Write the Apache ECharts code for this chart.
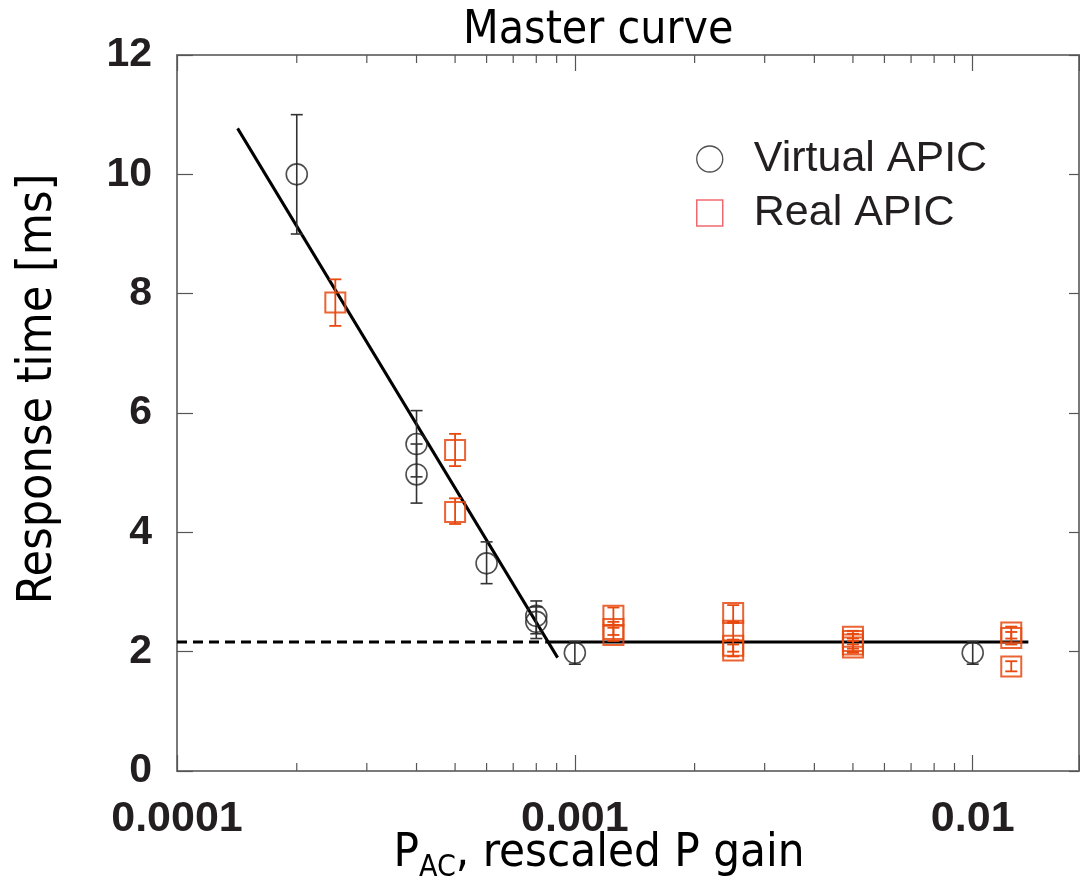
<!DOCTYPE html>
<html>
<head>
<meta charset="utf-8">
<script src="https://cdn.jsdelivr.net/npm/echarts@6/dist/echarts.min.js"></script>
<style>
html, body { margin: 0; padding: 0; background: #fff; }
#chart { width: 1080px; height: 891px; }
</style>
</head>
<body>
<div id="chart"></div>
<script>
// Virtual APIC (black circles)
var virtualX    = [2e-4, 4e-4, 4e-4, 6e-4, 8e-4, 8e-4, 1e-3, 1e-2];
var virtualY    = [10.0, 5.48, 4.97, 3.48, 2.60, 2.50, 1.98, 1.98];
var virtualLow  = [9.0,  4.93, 4.49, 3.14, 2.30, 2.22, 1.79, 1.79];
var virtualHigh = [11.0, 6.04, 5.48, 3.84, 2.85, 2.75, 2.17, 2.17];

// Real APIC (orange squares)
var realX    = [2.5e-4, 5e-4, 5e-4, 1.25e-3, 1.25e-3, 1.25e-3, 2.5e-3, 2.5e-3, 2.5e-3, 2.5e-3,
                5e-3, 5e-3, 5e-3, 5e-3, 1.25e-2, 1.25e-2, 1.25e-2];
var realY    = [7.85, 5.38, 4.34, 2.60, 2.38, 2.28, 2.65, 2.35, 2.10, 2.02,
                2.25, 2.18, 2.12, 2.07, 2.32, 2.23, 1.75];
var realLow  = [7.46, 5.11, 4.14, 2.45, 2.28, 2.18, 2.48, 2.20, 2.00, 1.92,
                2.12, 2.05, 2.00, 1.98, 2.22, 2.12, 1.67];
var realHigh = [8.24, 5.65, 4.57, 2.74, 2.50, 2.40, 2.78, 2.50, 2.20, 2.12,
                2.35, 2.30, 2.22, 2.18, 2.42, 2.33, 1.84];

// fitted lines
var slopeX = [1.42e-4, 9.05e-4];
var slopeY = [10.77, 1.90];
var plateauX = [8.45e-4, 1.38e-2];
var dashX = [1e-4, 8.45e-4];
var plateauY = 2.16;

// axes
var xMin = 1e-4, xMax = 0.0185;
var xTickLabels = ['0.0001', '0.001', '0.01'];
var yTickLabels = ['0', '2', '4', '6', '8', '10', '12'];
var minorTicks = [2e-4, 3e-4, 4e-4, 5e-4, 6e-4, 7e-4, 8e-4, 9e-4,
                  2e-3, 3e-3, 4e-3, 5e-3, 6e-3, 7e-3, 8e-3, 9e-3];

var axisGray = '#7a7a7a';
var orange = '#e8490f';
var nameFont = 'Liberation Sans Narrow, DejaVu Sans Condensed';

function zip(xs, ys) {
    var out = [];
    for (var i = 0; i < xs.length; i++) out.push([xs[i], ys[i]]);
    return out;
}
function zip3(xs, lo, hi) {
    var out = [];
    for (var i = 0; i < xs.length; i++) out.push([xs[i], lo[i], hi[i]]);
    return out;
}

function errorBars(color, width, cap) {
    return function (params, api) {
        var top = api.coord([api.value(0), api.value(2)]);
        var bot = api.coord([api.value(0), api.value(1)]);
        var st = { stroke: color, lineWidth: width };
        return {
            type: 'group',
            children: [
                { type: 'line', shape: { x1: top[0], y1: top[1], x2: bot[0], y2: bot[1] }, style: st },
                { type: 'line', shape: { x1: top[0] - cap, y1: top[1], x2: top[0] + cap, y2: top[1] }, style: st },
                { type: 'line', shape: { x1: bot[0] - cap, y1: bot[1], x2: bot[0] + cap, y2: bot[1] }, style: st }
            ]
        };
    };
}

var chart = echarts.init(document.getElementById('chart'));

var baseX = {
    type: 'log',
    logBase: 10,
    min: xMin,
    max: xMax,
    splitLine: { show: false },
    axisLine: { show: true, onZero: false, lineStyle: { color: axisGray, width: 2 } },
    axisTick: { show: true, inside: true, length: 16, lineStyle: { color: '#555', width: 1.2 } }
};
var baseY = {
    type: 'value',
    min: 0,
    max: 12,
    interval: 2,
    splitLine: { show: false },
    axisLine: { show: true, onZero: false, lineStyle: { color: axisGray, width: 2 } },
    axisTick: { show: true, inside: true, length: 16, lineStyle: { color: '#555', width: 1.2 } }
};

var option = {
    backgroundColor: '#fff',
    animation: false,
    title: {
        text: 'Master curve',
        left: 458,
        top: 3,
        textStyle: { fontFamily: 'DejaVu Sans Condensed', fontWeight: 'normal', fontSize: 46, color: '#000' }
    },
    grid: { left: 177, right: 1, top: 55, bottom: 120, outerBoundsMode: 'none' },
    legend: {
        orient: 'vertical',
        left: 691,
        top: 132,
        itemWidth: 26,
        itemHeight: 26,
        itemGap: 10,
        textStyle: { fontFamily: 'Liberation Sans', fontSize: 43, lineHeight: 44, color: '#231f20', padding: [0, 0, 0, 26] },
        data: [
            { name: 'Virtual APIC', icon: 'circle', itemStyle: { color: 'transparent', borderColor: '#222', borderWidth: 1.3 } },
            { name: 'Real APIC', icon: 'rect', itemStyle: { color: 'transparent', borderColor: '#ee4f57', borderWidth: 1.5 } }
        ]
    },
    xAxis: [
        Object.assign({}, baseX, {
            position: 'bottom',
            name: '{p|P}{s|AC}{p|, rescaled P gain}',
            nameLocation: 'middle',
            nameGap: 54,
            nameMoveOverlap: false,
            nameTextStyle: {
                padding: [0, 58, 0, 0],
                rich: {
                    p: { fontFamily: nameFont, fontSize: 47, color: '#000' },
                    s: { fontFamily: nameFont, fontSize: 30, color: '#000', padding: [28, 0, 0, 0] }
                }
            },
            axisLabel: {
                margin: 27,
                fontFamily: 'Liberation Sans',
                fontWeight: 'bold',
                fontSize: 43,
                color: '#231f20',
                formatter: function (v) {
                    var e = Math.log10(v);
                    var r = Math.round(e);
                    if (Math.abs(e - r) > 0.01) return '';
                    return xTickLabels[r + 4] || '';
                }
            }
        }),
        Object.assign({}, baseX, { position: 'top', axisLabel: { show: false } })
    ],
    yAxis: [
        Object.assign({}, baseY, {
            position: 'left',
            name: 'Response time [ms]',
            nameLocation: 'middle',
            nameRotate: 90,
            nameGap: 114,
            nameMoveOverlap: false,
            nameTextStyle: {
                fontFamily: nameFont,
                fontSize: 48,
                color: '#000',
                padding: [0, 0, 0, 48]
            },
            axisLabel: {
                margin: 25,
                fontFamily: 'Liberation Sans',
                fontWeight: 'bold',
                fontSize: 41,
                color: '#231f20',
                formatter: function (v) { return yTickLabels[Math.round(v / 2)]; }
            }
        }),
        Object.assign({}, baseY, {
            position: 'right',
            axisLabel: { show: false },
            axisTick: { show: true, inside: true, length: 10, lineStyle: { color: '#555', width: 1.2 } }
        })
    ],
    series: [
        {
            type: 'custom',
            silent: true,
            renderItem: function (params, api) {
                var cs = params.coordSys;
                var x = api.coord([api.value(0), 1])[0];
                var yb = cs.y + cs.height, yt = cs.y;
                var st = { stroke: '#555', lineWidth: 1.2 };
                return {
                    type: 'group',
                    children: [
                        { type: 'line', shape: { x1: x, y1: yb, x2: x, y2: yb - 8 }, style: st },
                        { type: 'line', shape: { x1: x, y1: yt, x2: x, y2: yt + 8 }, style: st }
                    ]
                };
            },
            data: minorTicks.map(function (v) { return [v, 1]; }),
            z: 1
        },
        {
            type: 'line',
            data: zip(dashX, [plateauY, plateauY]),
            symbol: 'none',
            lineStyle: { color: '#000', width: 3, type: [10, 6] },
            z: 3
        },
        {
            type: 'line',
            data: zip(plateauX, [plateauY, plateauY]),
            symbol: 'none',
            lineStyle: { color: '#000', width: 3 },
            z: 3
        },
        {
            type: 'line',
            data: zip(slopeX, slopeY),
            symbol: 'none',
            lineStyle: { color: '#000', width: 3 },
            z: 3
        },
        {
            type: 'custom',
            silent: true,
            renderItem: errorBars('#333', 1.6, 6),
            encode: { x: 0, y: [1, 2] },
            data: zip3(virtualX, virtualLow, virtualHigh),
            z: 4
        },
        {
            type: 'custom',
            silent: true,
            renderItem: errorBars(orange, 1.8, 6),
            encode: { x: 0, y: [1, 2] },
            data: zip3(realX, realLow, realHigh),
            z: 4
        },
        {
            name: 'Virtual APIC',
            type: 'scatter',
            symbol: 'circle',
            symbolSize: 21,
            itemStyle: { color: 'transparent', borderColor: '#222', borderWidth: 1.6 },
            data: zip(virtualX, virtualY),
            z: 5
        },
        {
            name: 'Real APIC',
            type: 'scatter',
            symbol: 'rect',
            symbolSize: 20,
            itemStyle: { color: 'transparent', borderColor: orange, borderWidth: 2, opacity: 0.85 },
            data: zip(realX, realY),
            z: 5
        }
    ]
};

chart.setOption(option);
</script>
</body>
</html>
